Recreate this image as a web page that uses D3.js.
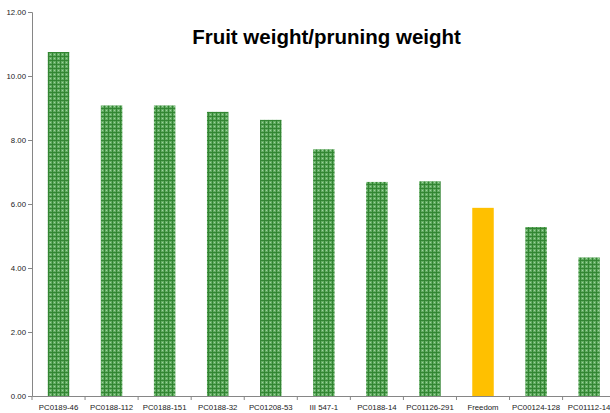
<!DOCTYPE html>
<html>
<head>
<meta charset="utf-8">
<script src="https://cdn.jsdelivr.net/npm/d3@7/dist/d3.min.js"></script>
<style>
html,body{margin:0;padding:0;background:#fff;overflow:hidden;}
svg{display:block;}
</style>
</head>
<body>
<script>
const categories = ["PC0189-46","PC0188-112","PC0188-151","PC0188-32","PC01208-53","III 547-1","PC0188-14","PC01126-291","Freedom","PC00124-128","PC01112-14"];
const values = [10.75, 9.08, 9.08, 8.88, 8.63, 7.71, 6.69, 6.71, 5.88, 5.28, 4.33];
const highlighted = ["Freedom"];
const yTicks = [0, 2, 4, 6, 8, 10, 12];
const title = "Fruit weight/pruning weight";

const W = 610, H = 413;
const svg = d3.select("body").append("svg").attr("width", W).attr("height", H);

const defs = svg.append("defs");
const pat = defs.append("pattern").attr("id","chk").attr("patternUnits","userSpaceOnUse")
  .attr("width",4).attr("height",4);
pat.append("rect").attr("width",4).attr("height",4).attr("fill","#62ad62");
pat.append("rect").attr("x",0).attr("y",0).attr("width",4).attr("height",1).attr("fill","#338533");
pat.append("rect").attr("x",0).attr("y",0).attr("width",1).attr("height",4).attr("fill","#338533");
pat.append("rect").attr("x",2).attr("y",2).attr("width",1).attr("height",1).attr("fill","#9fd09f");

const x0 = 32, y0 = 396, yTop = 12;
const x = d3.scaleBand().domain(categories).range([x0, x0 + 11*53.06]).paddingInner(0.595).paddingOuter(0.2975);
const y = d3.scaleLinear().domain([0, 12]).range([y0, yTop]);

// bars
svg.append("g").selectAll("rect").data(categories).join("rect")
  .attr("x", d => x(d))
  .attr("y", (d,i) => y(values[i]))
  .attr("width", x.bandwidth())
  .attr("height", (d,i) => y0 - y(values[i]))
  .attr("fill", d => highlighted.includes(d) ? "#ffc000" : "url(#chk)");

// y axis
const yAxis = d3.axisLeft(y).tickValues(yTicks).tickFormat(d3.format(".2f")).tickSize(4).tickPadding(2);
const gy = svg.append("g").attr("transform", `translate(${x0},0)`).call(yAxis);
gy.select(".domain").attr("stroke","#868686");
gy.selectAll(".tick line").attr("stroke","#868686");
gy.selectAll("text").attr("font-family","Liberation Sans, Arial, sans-serif").attr("font-size","7.8px").attr("fill","#222");

// x axis
const xAxis = d3.axisBottom(x).tickSize(0).tickPadding(8);
const gx = svg.append("g").attr("transform", `translate(0,${y0})`).call(xAxis);
gx.select(".domain").attr("stroke","#868686");
gx.selectAll("text").attr("font-family","Liberation Sans, Arial, sans-serif").attr("font-size","7.8px").attr("fill","#222");
// tick marks between categories
const step = x.step();
gx.append("g").selectAll("line").data(categories).join("line")
  .attr("x1", d => x(d) - (step - x.bandwidth())/2)
  .attr("x2", d => x(d) - (step - x.bandwidth())/2)
  .attr("y1", 0).attr("y2", 4).attr("stroke","#868686");

// title
svg.append("text").attr("x", 326.5).attr("y", 44).attr("text-anchor","middle")
  .attr("font-family","Liberation Sans, Arial, sans-serif").attr("font-weight","bold")
  .attr("font-size","20.5px").attr("fill","#000").text(title);
</script>
</body>
</html>
